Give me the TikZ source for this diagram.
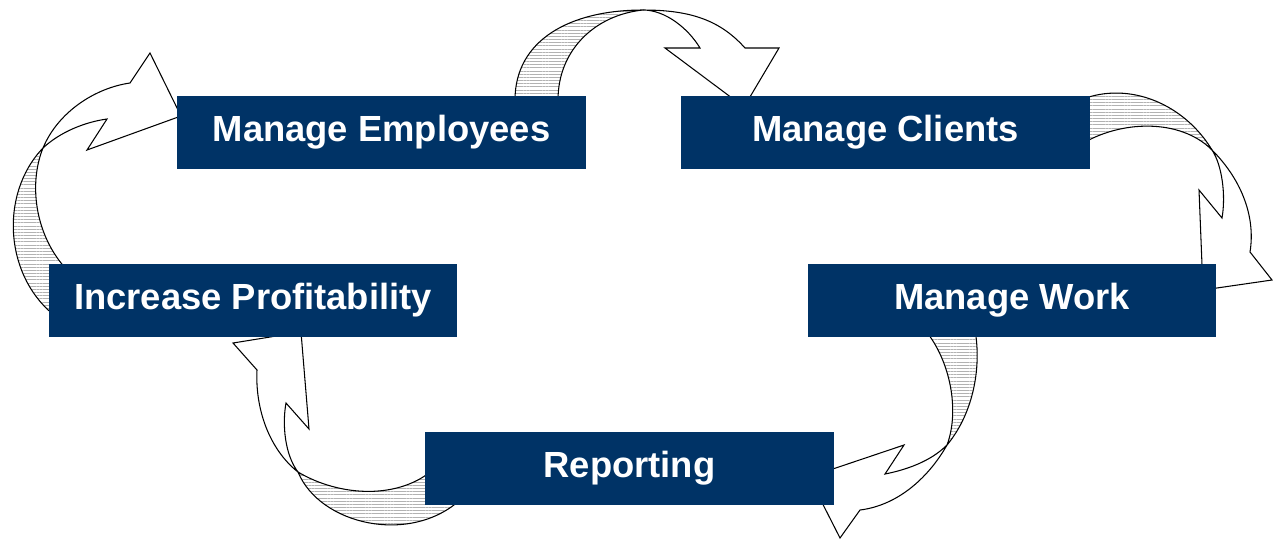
\documentclass[tikz,border=0pt]{standalone}
\usepackage{fontspec}
\setmainfont{Liberation Sans}
\usepackage{xcolor}
\usepackage{tikz}
\usetikzlibrary{patterns.meta}
\definecolor{boxNavy}{HTML}{003366}
\tikzset{task-box/.style={fill=boxNavy,text=white,minimum width=8.18cm,minimum height=1.46cm,inner sep=0pt,font=\fontsize{20.7pt}{24pt}\selectfont\bfseries,text height=15.1pt,text depth=4.35pt}}
\tikzset{band-back/.style={draw=black,line width=0.6pt,line join=round,pattern={Lines[angle=0,distance=1.8pt,line width=0.35pt]},pattern color=gray!60}}
\tikzset{band-front/.style={draw=black,line width=0.6pt,line join=miter,fill=white}}

\begin{document}
\begin{tikzpicture}[x=0.02cm,y=-0.02cm]
            \useasboundingbox (0,0) rectangle (1273,539);

            % crossing points of the twisted bands
            \coordinate (top-twist) at (643,10);
            \coordinate (left-twist) at (43,148);
            \coordinate (right-twist) at (1212,150);
            \coordinate (low-right-twist) at (947,445);
            \coordinate (low-left-twist) at (298,472);

            % employees -> clients
            \draw[band-back] (515,100) .. controls (515,40) and (570,10) .. (top-twist)
                .. controls (595,15) and (558,50) .. (558,100) -- cycle;
            \draw[band-front] (top-twist) .. controls (665,10) and (688,28) .. (700,48)
                -- (665,48) -- (744,107) -- (779,48) -- (745,48)
                .. controls (720,20) and (690,10) .. (top-twist) -- cycle;

            % clients -> work
            \draw[band-back] (1080,100) .. controls (1130,80) and (1185,105) .. (right-twist)
                .. controls (1180,118) and (1120,120) .. (1080,145) -- cycle;
            \draw[band-front] (right-twist) .. controls (1222,165) and (1226,195) .. (1222,218)
                -- (1199,190) -- (1203,290) -- (1272,280) -- (1250,252)
                .. controls (1256,215) and (1240,178) .. (right-twist) -- cycle;

            % work -> reporting
            \draw[band-back] (925,330) .. controls (950,360) and (960,410) .. (low-right-twist)
                .. controls (972,415) and (982,370) .. (975,330) -- cycle;
            \draw[band-front] (low-right-twist) .. controls (930,462) and (905,470) .. (885,474)
                -- (904,445) -- (809,477) -- (840,538) -- (860,510)
                .. controls (900,505) and (930,475) .. (low-right-twist) -- cycle;

            % reporting -> profitability
            \draw[band-back] (435,468) .. controls (400,500) and (340,497) .. (low-left-twist)
                .. controls (320,525) and (410,545) .. (460,500) -- cycle;
            \draw[band-front] (low-left-twist) .. controls (285,455) and (282,425) .. (286,403)
                -- (309,429) -- (301,332) -- (233,343) -- (257,370)
                .. controls (255,410) and (270,450) .. (low-left-twist) -- cycle;

            % profitability -> employees
            \draw[band-back] (58,318) .. controls (5,280) and (-2,195) .. (left-twist)
                .. controls (28,185) and (35,240) .. (72,275) -- cycle;
            \draw[band-front] (left-twist) .. controls (60,132) and (85,122) .. (107,119)
                -- (87,150) -- (181,116) -- (150,53) -- (130,83)
                .. controls (95,88) and (58,112) .. (left-twist) -- cycle;

            \node[task-box] (employees) at (381.5,132.5) {Manage Employees};
            \node[task-box] (clients) at (885.5,132.5) {Manage Clients};
            \node[task-box] (profitability) at (253,300.5) {Increase Profitability};
            \node[task-box] (work) at (1012,300.5) {Manage Work};
            \node[task-box] (reporting) at (629.5,468.5) {Reporting};
        \end{tikzpicture}
\end{document}
